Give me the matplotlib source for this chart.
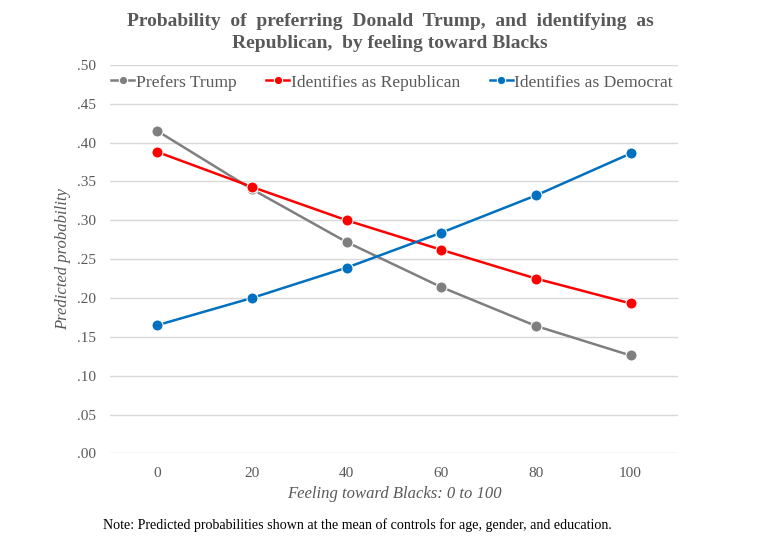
"""Predicted probability of preferring Trump / party ID by feeling toward Blacks."""

import matplotlib.pyplot as plt
from matplotlib.ticker import FuncFormatter

plt.rcParams["font.family"] = ["Liberation Serif", "DejaVu Serif"]

feeling = ["0", "20", "40", "60", "80", "100"]
prefers_trump = [0.415, 0.340, 0.272, 0.214, 0.164, 0.126]
ident_republican = [0.388, 0.343, 0.300, 0.262, 0.225, 0.193]
ident_democrat = [0.165, 0.200, 0.239, 0.284, 0.332, 0.386]

series = [
    ("Prefers Trump", prefers_trump, "#7f7f7f"),
    ("Identifies as Republican", ident_republican, "#ff0000"),
    ("Identifies as Democrat", ident_democrat, "#0070c0"),
]

text_color = "#595959"

fig = plt.figure(figsize=(7.6, 5.41), dpi=100)
ax = fig.add_axes([0.1447, 0.162, 0.7473, 0.718])

x = range(len(feeling))
for label, values, color in series:
    ax.plot(
        x,
        values,
        color=color,
        linewidth=1.8,
        marker="o",
        markersize=8,
        markeredgecolor="white",
        markeredgewidth=0.8,
        label=label,
        zorder=3,
    )

ax.set_xlim(-0.5, len(feeling) - 0.5)
ax.set_ylim(0, 0.5)
ax.set_xticks(list(x))
ax.set_xticklabels(feeling)
ax.set_yticks([i * 0.05 for i in range(11)])
ax.yaxis.set_major_formatter(
    FuncFormatter(lambda v, _: f"{v:.2f}".lstrip("0"))
)
ax.grid(axis="y", color="#d9d9d9", linewidth=1)
ax.set_axisbelow(True)
for spine in ax.spines.values():
    spine.set_visible(False)
ax.tick_params(length=0, labelsize=11, colors=text_color, pad=10)

ax.set_xlabel("Feeling toward Blacks: 0 to 100", fontsize=12, style="italic",
              color=text_color, labelpad=4)
ax.set_ylabel("Predicted probability", fontsize=12, style="italic",
              color=text_color, labelpad=4)

leg = ax.legend(
    loc="center",
    bbox_to_anchor=(0.497, 0.955),
    ncol=3,
    frameon=False,
    fontsize=12.6,
    handlelength=1.3,
    handletextpad=0.1,
    columnspacing=1.7,
    markerscale=0.75,
    borderpad=0,
)
for text in leg.get_texts():
    text.set_color(text_color)

fig.text(0.513, 0.94,
         "Probability  of  preferring  Donald  Trump,  and  identifying  as\n"
         "Republican,  by feeling toward Blacks",
         ha="center", va="center", fontsize=14, fontweight="bold",
         color=text_color, linespacing=1.35)

fig.text(0.135, 0.03,
         "Note: Predicted probabilities shown at the mean of controls for age, "
         "gender, and education.",
         ha="left", va="center", fontsize=10.1, color="black")

fig.savefig("out.png", dpi=100)
